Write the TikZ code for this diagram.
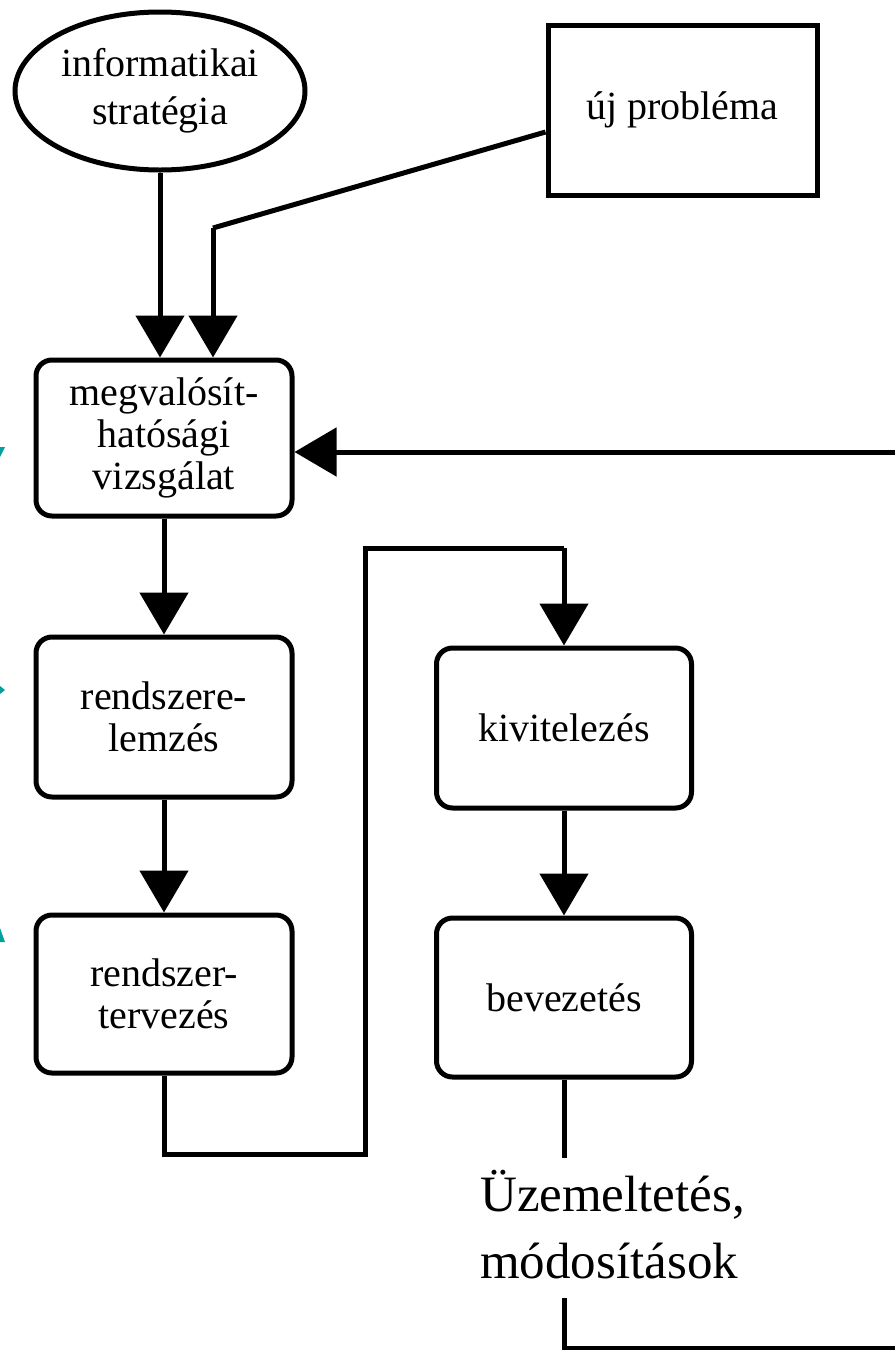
\documentclass[tikz,border=0pt]{standalone}
\usepackage{fontspec}
\setmainfont{Liberation Serif}
\usetikzlibrary{arrows.meta,shapes.geometric}

\tikzset{
  wire/.style={line width=5pt, line join=miter},
  flow/.style={wire, -{Triangle[width=48pt,length=42pt]}},
  boxtext/.style={font=\fontsize{40}{42}\selectfont, align=center},
  stepbox/.style={draw, line width=5pt, rounded corners=16pt, inner sep=0pt,
    boxtext, minimum width=256pt, minimum height=158pt},
  edgetick/.style={fill={rgb,255:red,0;green,160;blue,160}, draw=none}
}

\begin{document}
\begin{tikzpicture}[x=1pt,y=-1pt]
  \useasboundingbox (0,0) rectangle (895,1350);

  % entry points of the process
  \node (strat) [draw, ellipse, line width=5pt, inner sep=0pt,
    minimum width=290pt, minimum height=158pt,
    font=\fontsize{40}{48}\selectfont, align=center] at (160,91)
    {informatikai\\stratégia};
  \node (newp) [draw, line width=5pt, inner sep=0pt,
    minimum width=269pt, minimum height=170pt, boxtext] at (682.5,110)
    {új probléma};

  % process steps
  \node (feas) [stepbox, minimum height=156pt] at (164,438)
    {\rule{0pt}{20pt}megvalósít-\\hatósági\\vizsgálat};
  \node (anal) [stepbox, minimum height=160pt] at (164,717)
    {rendszere-\\lemzés};
  \node (design) [stepbox] at (164,994)
    {rendszer-\\tervezés};
  \node (impl) [stepbox, minimum width=255pt, minimum height=160pt] at (564,728)
    {kivitelezés};
  \node (intro) [stepbox, minimum width=255pt, minimum height=159pt] at (564,997.5)
    {bevezetés};

  \node (ops) [font=\fontsize{51}{67}\selectfont, align=left, inner sep=0pt,
    anchor=north west] at (480,1170) {Üzemeltetés,\\módosítások};

  % helper points of the connectors
  \coordinate (bendA) at (213,228);
  \coordinate (feedR) at (895,452);
  \coordinate (loopB) at (365,1154);
  \coordinate (loopT) at (365,548);
  \coordinate (introEnd) at (564,1158);
  \coordinate (opsTop) at (564,1298);
  \coordinate (opsBot) at (564,1348);
  \coordinate (opsEnd) at (895,1348);

  % connectors
  \draw[flow] (strat.south) -- (strat.south |- feas.north);
  \draw[wire] ([yshift=-22pt]newp.west) -- (bendA);
  \draw[flow] (bendA) -- (bendA |- feas.north);
  \draw[flow] (feedR) -- (feedR -| feas.east);
  \draw[flow] (feas.south) -- (anal.north);
  \draw[flow] (anal.south) -- (design.north);
  \draw[wire] (design.south) -- (design.south |- loopB) -- (loopB) -- (loopT)
    -- (loopT -| impl.north);
  \draw[flow] (loopT -| impl.north) -- (impl.north);
  \draw[flow] (impl.south) -- (intro.north);
  \draw[wire] (intro.south) -- (introEnd);
  \draw[wire] (opsTop) -- (opsBot) -- (opsEnd);

  % small marks at the left edge
  \fill[edgetick] (0,447) -- (5,447) -- (0,457) -- cycle;
  \fill[edgetick] (0,686) -- (5,690) -- (0,694) -- cycle;
  \fill[edgetick] (0,928) -- (5,942) -- (0,942) -- cycle;
\end{tikzpicture}
\end{document}
